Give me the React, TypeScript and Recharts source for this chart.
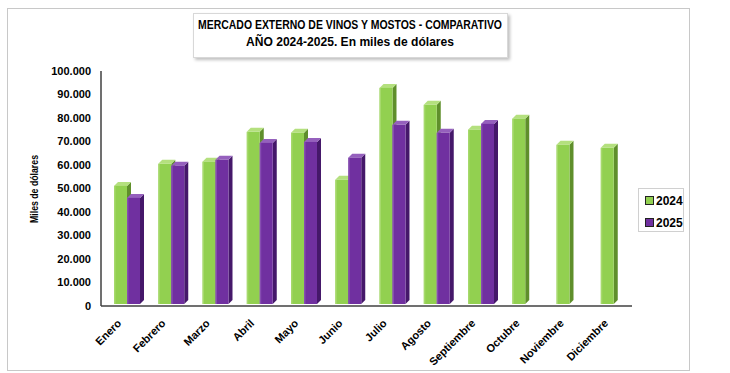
import { Bar, BarChart, XAxis, YAxis } from 'recharts';

const months = ['Enero', 'Febrero', 'Marzo', 'Abril', 'Mayo', 'Junio', 'Julio', 'Agosto', 'Septiembre', 'Octubre', 'Noviembre', 'Diciembre'];
const v2024 = [51100, 60500, 61400, 74100, 73700, 53700, 92800, 85600, 75000, 79700, 68600, 67300];
const v2025 = [46000, 59700, 62200, 69400, 69800, 63100, 77100, 73700, 77500, null, null, null];
const yTicks = [0, 10000, 20000, 30000, 40000, 50000, 60000, 70000, 80000, 90000, 100000];

const data = months.map((m, i) => ({ month: m, y2024: v2024[i], y2025: v2025[i] }));

const fmt = (v: number) => v.toLocaleString('de-DE');

const colors = {
  y2024: { front: '#92d050', side: '#5f8f2b', top: '#b4e07e' },
  y2025: { front: '#7030a0', side: '#45186a', top: '#9560bd' },
};

const arial = "'Liberation Sans', Arial, sans-serif";

// 3D look: front face, darker right side, lighter top; drawn slightly back/right like Excel
const Bar3D = (props: any) => {
  const { y, width, value, c } = props;
  if (value == null || !props.height) return null;
  const x = props.x + 4;
  const height = props.height - 2;
  const d = 4;
  return (
    <g>
      <polygon
        points={`${x + width},${y} ${x + width + d},${y - d} ${x + width + d},${y + height - d} ${x + width},${y + height}`}
        fill={c.side}
      />
      <polygon points={`${x},${y} ${x + d},${y - d} ${x + width + d},${y - d} ${x + width},${y}`} fill={c.top} />
      <rect x={x} y={y} width={width} height={height} fill={c.front} />
      <rect x={x} y={y} width={1.5} height={height} fill={c.top} opacity={0.6} />
    </g>
  );
};

const MonthTick = ({ x, y, payload }: any) => (
  <text
    x={x - 1}
    y={y + 10}
    transform={`rotate(-45 ${x - 1} ${y + 10})`}
    textAnchor="end"
    fontFamily={arial}
    fontWeight="bold"
    fontSize={11}
    fill="#000"
  >
    {payload.value}
  </text>
);

const LegendBox = () => (
  <div
    style={{
      position: 'absolute',
      left: 638,
      top: 188,
      width: 46,
      height: 44,
      border: '1px solid #d0d0d0',
      boxSizing: 'border-box',
      background: '#fff',
      fontFamily: arial,
      fontWeight: 'bold',
      fontSize: 12,
      padding: '2px 0 0 6px',
    }}
  >
    {(['y2024', 'y2025'] as const).map((k) => (
      <div key={k} style={{ display: 'flex', alignItems: 'center', height: 19, marginBottom: 3 }}>
        <span
          style={{
            width: 7,
            height: 7,
            background: colors[k].front,
            border: '1px solid #222',
            marginRight: 2,
            display: 'inline-block',
          }}
        />
        {k.slice(1)}
      </div>
    ))}
  </div>
);

export default function App() {
  return (
    <div style={{ position: 'absolute', left: 0, top: 0, width: 730, height: 373, background: '#fff' }}>
      <div
        style={{
          position: 'absolute',
          left: 7,
          top: 8,
          width: 683,
          height: 363,
          border: '1px solid #c8c8c8',
          boxSizing: 'border-box',
        }}
      />
      <BarChart
        width={730}
        height={373}
        data={data}
        margin={{ top: 71, right: 98, bottom: 7, left: 11 }}
        barGap={0}
        barSize={13}
      >
        <XAxis
          dataKey="month"
          height={60}
          interval={0}
          tick={<MonthTick />}
          tickLine={false}
          axisLine={{ stroke: '#404040', strokeWidth: 1.5 }}
        />
        <YAxis
          width={90}
          domain={[0, 100000]}
          ticks={yTicks}
          tickFormatter={fmt}
          tickLine={false}
          tickSize={0}
          tickMargin={10}
          axisLine={{ stroke: '#404040', strokeWidth: 1.5 }}
          tick={{ fontFamily: arial, fontWeight: 'bold', fontSize: 11, fill: '#000' }}
        />
        <Bar dataKey="y2024" name="2024" isAnimationActive={false} shape={<Bar3D c={colors.y2024} />} />
        <Bar dataKey="y2025" name="2025" isAnimationActive={false} shape={<Bar3D c={colors.y2025} />} />
      </BarChart>
      <LegendBox />
      <div
        style={{
          position: 'absolute',
          left: 193,
          top: 13,
          width: 315,
          height: 45,
          border: '1px solid #d8d8d8',
          boxSizing: 'border-box',
          boxShadow: '2px 2px 3px rgba(0,0,0,0.25)',
          background: '#fff',
        }}
      />
      <svg width={730} height={373} style={{ position: 'absolute', left: 0, top: 0, pointerEvents: 'none' }}>
        <g fontFamily={arial} fontWeight="bold" fill="#000">
          <text x={350} y={29} textAnchor="middle" fontSize={12.5} textLength={304} lengthAdjust="spacingAndGlyphs">
            MERCADO EXTERNO DE VINOS Y MOSTOS - COMPARATIVO
          </text>
          <text x={350} y={46} textAnchor="middle" fontSize={12.5} textLength={208} lengthAdjust="spacingAndGlyphs">
            AÑO 2024-2025. En miles de dólares
          </text>
          <text
            x={38}
            y={189}
            transform="rotate(-90 38 189)"
            textAnchor="middle"
            fontSize={10.5}
            textLength={68}
            lengthAdjust="spacingAndGlyphs"
          >
            Miles de dólares
          </text>
        </g>
      </svg>
    </div>
  );
}
